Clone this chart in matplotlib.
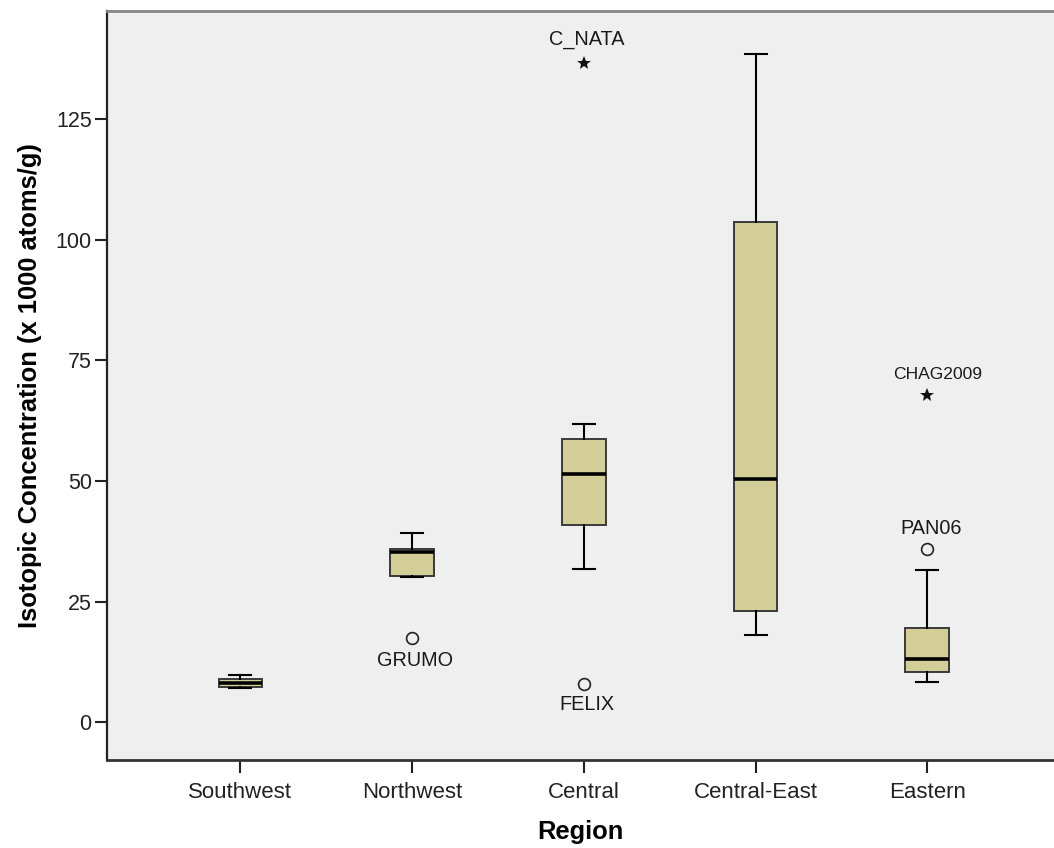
import matplotlib
matplotlib.use("Agg")
import matplotlib.pyplot as plt

# Box plot summaries per region (x 1000 atoms/g)
regions = ["Southwest", "Northwest", "Central", "Central-East", "Eastern"]
whisker_lo = [7.1, 30.2, 31.7, 18.1, 8.3]
q1 = [7.3, 30.3, 41.0, 23.1, 10.4]
median = [8.1, 35.4, 51.5, 50.5, 13.1]
q3 = [9.0, 35.9, 58.7, 103.8, 19.5]
whisker_hi = [9.8, 39.3, 61.8, 138.5, 31.6]

# Flagged samples: region index, value, name, kind (o = outlier, * = extreme)
out_region = [1, 2, 2, 4, 4]
out_value = [17.5, 8.0, 136.6, 35.9, 67.8]
out_name = ["GRUMO", "FELIX", "C_NATA", "PAN06", "CHAG2009"]
out_kind = ["o", "o", "*", "o", "*"]

yticks = [0, 25, 50, 75, 100, 125]

plt.rcParams["font.family"] = ["Liberation Sans", "DejaVu Sans"]

fig = plt.figure(figsize=(10.54, 8.48), dpi=100)
ax = fig.add_axes([0.1015, 0.1038, 0.8985, 0.8836])
ax.set_facecolor("#efefef")

stats = []
for i, name in enumerate(regions):
    stats.append(dict(label=name, whislo=whisker_lo[i], q1=q1[i], med=median[i],
                      q3=q3[i], whishi=whisker_hi[i], fliers=[]))

positions = list(range(1, len(regions) + 1))
ax.bxp(stats, positions=positions, widths=0.255, patch_artist=True,
       showfliers=False,
       boxprops=dict(facecolor="#d3ce98", edgecolor="#3a3a3a", linewidth=1.4),
       medianprops=dict(color="black", linewidth=2.6),
       whiskerprops=dict(color="black", linewidth=1.5),
       capprops=dict(color="black", linewidth=1.5),
       capwidths=0.128)

# outliers / extremes with their sample names
label_offsets = {"GRUMO": (3, -23), "FELIX": (3, -21), "C_NATA": (3, 24),
                 "PAN06": (4, 21), "CHAG2009": (10, 21)}
for r, v, name, kind in zip(out_region, out_value, out_name, out_kind):
    x = positions[r]
    if kind == "o":
        ax.plot(x, v, marker="o", ms=8.5, mfc="none", mec="#222222", mew=1.2)
    else:
        ax.plot(x, v, marker="*", ms=10, color="#111111", mew=0)
    dx, dy = label_offsets[name]
    fs = 12.6 if name == "CHAG2009" else 14.3
    ax.annotate(name, (x, v), xytext=(dx, dy), textcoords="offset pixels",
                ha="center", va="center", fontsize=fs, color="#1a1a1a")

ax.set_xlim(0.223, 5.738)
ax.set_ylim(-7.8, 147.5)
ax.set_yticks(yticks)
ax.set_yticklabels([str(t) for t in yticks])
ax.set_xticks(positions)
ax.set_xticklabels(regions)

ax.tick_params(axis="y", length=9, width=1.5, labelsize=15.5, pad=2,
               colors="#222222")
ax.tick_params(axis="x", length=9, width=1.5, labelsize=16, pad=7,
               colors="#222222")

ax.spines["right"].set_visible(False)
ax.spines["top"].set_color("#858585")
ax.spines["top"].set_linewidth(2)
ax.spines["left"].set_color("#222222")
ax.spines["left"].set_linewidth(1.6)
ax.spines["bottom"].set_color("#333333")
ax.spines["bottom"].set_linewidth(2)

ax.set_xlabel("Region", fontsize=18.4, fontweight="bold", labelpad=12)
ax.set_ylabel("Isotopic Concentration (x 1000 atoms/g)", fontsize=18.4,
              fontweight="bold", labelpad=10)

fig.savefig("out.png", dpi=100)
